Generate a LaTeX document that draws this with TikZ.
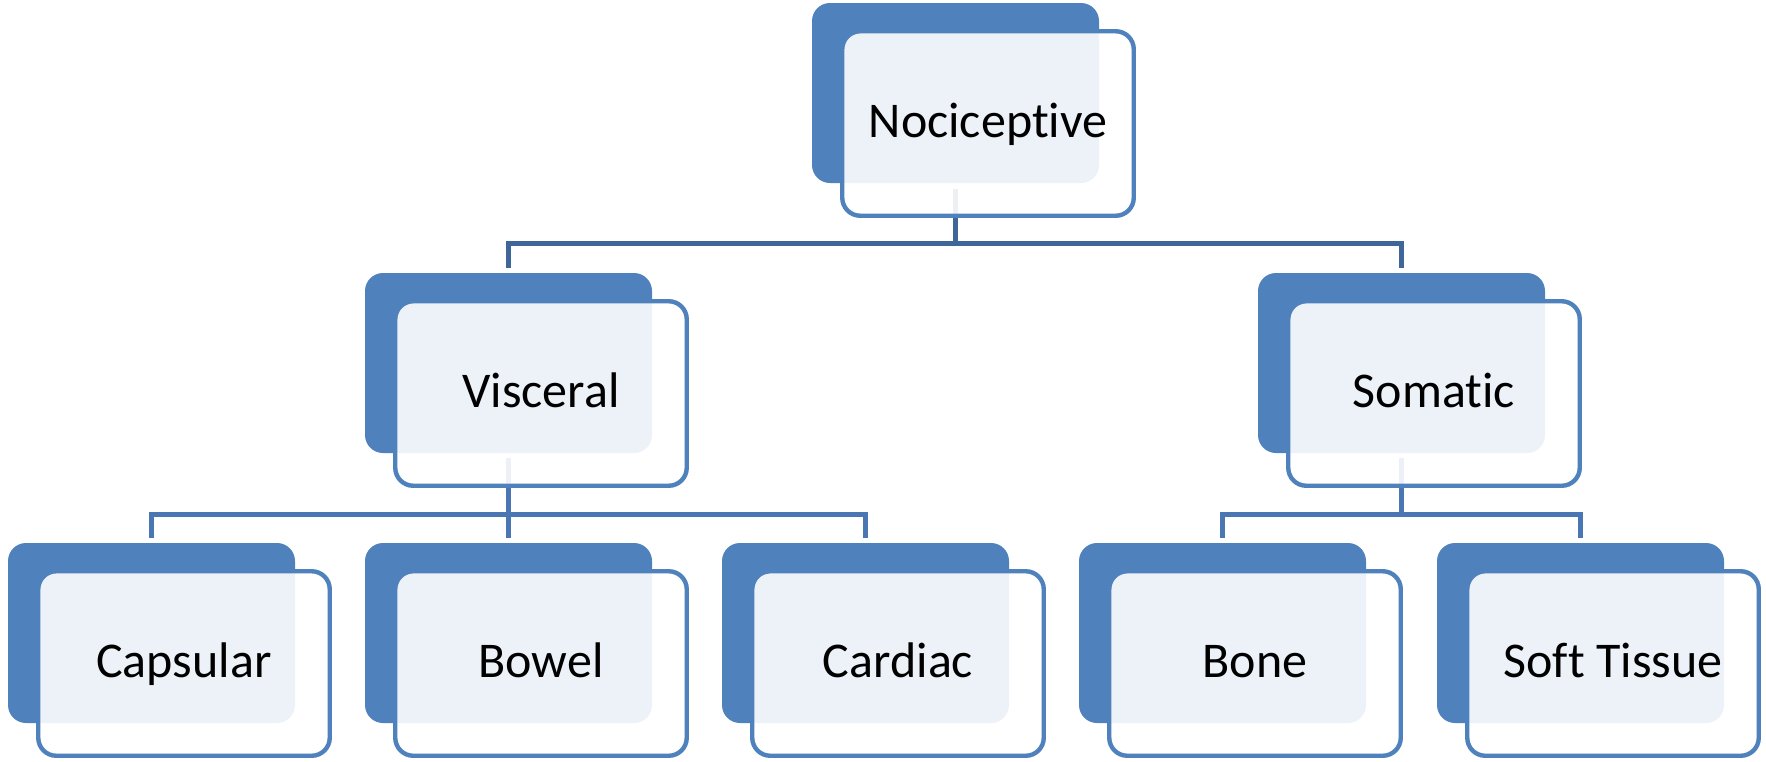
\documentclass[tikz,border=0pt]{standalone}
\usepackage{fontspec}
\setmainfont{Carlito}[RawFeature={-liga;-clig;-dlig}]
\definecolor{accent}{HTML}{4F81BD}
\definecolor{connA}{HTML}{3E6699}
\definecolor{connB}{HTML}{4A77B3}
\tikzset{
  backbox/.style={fill=accent, draw=none, rounded corners=18pt, minimum width=287pt, minimum height=180pt, inner sep=0pt},
  frontbox/.style={fill=white, fill opacity=0.9, text opacity=1, draw=accent, line width=4.4pt, rounded corners=18pt,
    minimum width=291.5pt, minimum height=184.5pt, inner sep=0pt, text height=28pt, text depth=0pt,
    font=\fontsize{50}{60}\selectfont},
  connone/.style={draw=connA, line width=5pt},
  conntwo/.style={draw=connB, line width=5pt}
}
\begin{document}
\begin{tikzpicture}[x=1pt,y=-1pt]
\useasboundingbox (0,0) rectangle (1766,761);
% back boxes
\node[backbox] (noc) at (955.5,93) {};
\node[backbox] (vis) at (508.5,363) {};
\node[backbox] (som) at (1401.5,363) {};
\node[backbox] (cap) at (151.5,633) {};
\node[backbox] (bow) at (508.5,633) {};
\node[backbox] (car) at (865.5,633) {};
\node[backbox] (bon) at (1222.5,633) {};
\node[backbox] (sof) at (1580.5,633) {};
% junctions
\coordinate (j1) at (955.5,243);
\coordinate (j2) at (508.5,514);
\coordinate (j3) at (1401.5,514);
% connectors
\draw[connone] ([yshift=-6pt]noc.south) -- (j1);
\draw[connone] ([yshift=5pt]vis.north) |- (j1) -| ([yshift=5pt]som.north);
\draw[conntwo] ([yshift=-5pt]vis.south) -- ([yshift=5pt]bow.north);
\draw[conntwo] ([yshift=5pt]cap.north) |- (j2) -| ([yshift=5pt]car.north);
\draw[conntwo] ([yshift=-5pt]som.south) -- (j3);
\draw[conntwo] ([yshift=5pt]bon.north) |- (j3) -| ([yshift=5pt]sof.north);
% front boxes
\node[frontbox] (nocf) at (988,123.5) {Nociceptive};
\node[frontbox] (visf) at (541,393.5) {Visceral};
\node[frontbox] (somf) at (1434,393.5) {Somatic};
\node[frontbox] (capf) at (184,663.5) {Capsular};
\node[frontbox] (bowf) at (541,663.5) {Bowel};
\node[frontbox] (carf) at (898,663.5) {Cardiac};
\node[frontbox] (bonf) at (1255,663.5) {Bone};
\node[frontbox] (soff) at (1613,663.5) {Soft Tissue};
\end{tikzpicture}
\end{document}
